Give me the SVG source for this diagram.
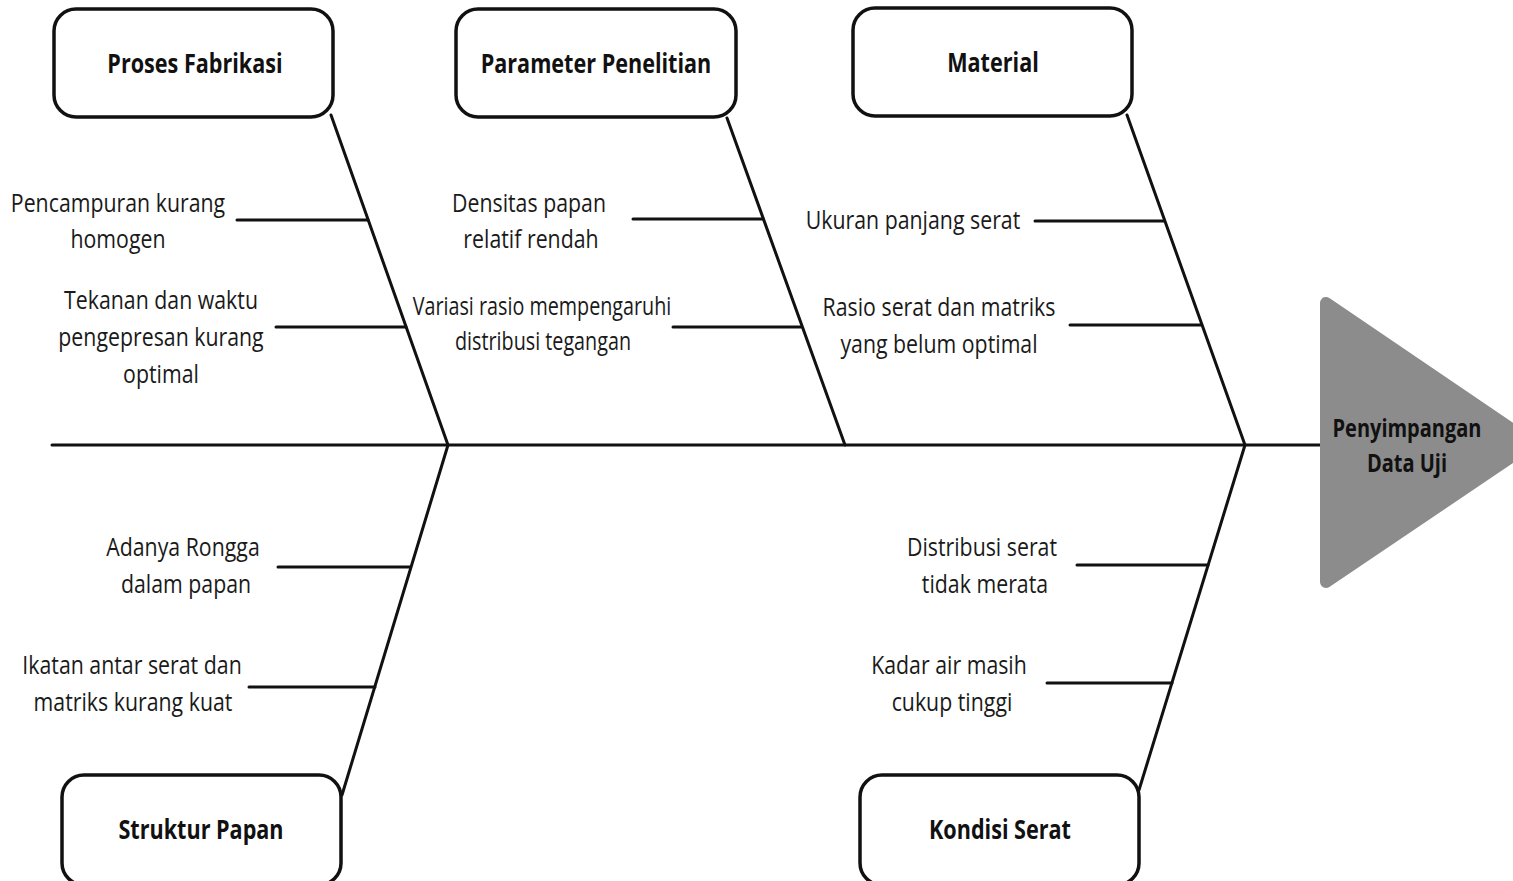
<svg xmlns="http://www.w3.org/2000/svg" width="1513" height="881" viewBox="0 0 1513 881">
<style>
.box{fill:#fff;stroke:#111;stroke-width:3.5}
.ln{stroke:#111;stroke-width:3;fill:none;stroke-linecap:round}
.t{font-family:"Open Sans","Noto Sans",sans-serif;font-size:26px;fill:#1a1a1a;text-anchor:middle;transform-box:fill-box;transform-origin:center;transform:scaleX(0.82)}
.n{transform:scaleX(0.76)}
.h{font-family:"Open Sans","Noto Sans",sans-serif;font-size:27px;font-weight:bold;fill:#111;text-anchor:middle;transform-box:fill-box;transform-origin:center;transform:scaleX(0.8)}
</style>
<rect width="1513" height="881" fill="#fff"/>
<g id="connectors">
<line class="ln" x1="52" y1="445" x2="1322" y2="445"/>
<line class="ln" x1="331" y1="115" x2="448" y2="445"/>
<line class="ln" x1="448" y1="445" x2="342" y2="795"/>
<line class="ln" x1="727" y1="118" x2="845" y2="445"/>
<line class="ln" x1="1127" y1="115" x2="1245" y2="445"/>
<line class="ln" x1="1245" y1="445" x2="1139" y2="790"/>
<line class="ln" x1="237" y1="220" x2="368" y2="220"/>
<line class="ln" x1="276" y1="327" x2="406" y2="327"/>
<line class="ln" x1="633" y1="219" x2="763" y2="219"/>
<line class="ln" x1="673" y1="327" x2="801" y2="327"/>
<line class="ln" x1="1035" y1="221" x2="1164" y2="221"/>
<line class="ln" x1="1070" y1="325" x2="1201" y2="325"/>
<line class="ln" x1="278" y1="567" x2="410" y2="567"/>
<line class="ln" x1="249" y1="687" x2="375" y2="687"/>
<line class="ln" x1="1077" y1="565" x2="1208" y2="565"/>
<line class="ln" x1="1047" y1="683" x2="1172" y2="683"/>
</g>
<g id="effect">
<polygon points="1326,303 1326,582 1532,443" fill="#8c8c8c" stroke="#8c8c8c" stroke-width="12" stroke-linejoin="round"/>
<text class="h" x="1407" y="437" style="font-size:25px">Penyimpangan</text>
<text class="h" x="1407" y="472" style="font-size:25px">Data Uji</text>
</g>
<g id="proses-fabrikasi">
<rect class="box" x="54" y="9" width="279" height="108" rx="22"/>
<text class="h" x="195" y="73">Proses Fabrikasi</text>
</g>
<g id="parameter-penelitian">
<rect class="box" x="456" y="9" width="280" height="108" rx="22"/>
<text class="h" x="596" y="73">Parameter Penelitian</text>
</g>
<g id="material">
<rect class="box" x="853" y="8" width="279" height="108" rx="22"/>
<text class="h" x="993" y="72">Material</text>
</g>
<g id="struktur-papan">
<rect class="box" x="62" y="775" width="279" height="110" rx="22"/>
<text class="h" x="201" y="839">Struktur Papan</text>
</g>
<g id="kondisi-serat">
<rect class="box" x="860" y="775" width="279" height="110" rx="22"/>
<text class="h" x="1000" y="839">Kondisi Serat</text>
</g>
<g id="causes">
<text class="t" x="118" y="212">Pencampuran kurang</text>
<text class="t" x="118" y="248">homogen</text>
<text class="t" x="161" y="309">Tekanan dan waktu</text>
<text class="t" x="161" y="346">pengepresan kurang</text>
<text class="t" x="161" y="383">optimal</text>
<text class="t" x="529" y="212">Densitas papan</text>
<text class="t" x="531" y="248">relatif rendah</text>
<text class="t n" x="542" y="315">Variasi rasio mempengaruhi</text>
<text class="t n" x="543" y="350">distribusi tegangan</text>
<text class="t" x="913" y="229">Ukuran panjang serat</text>
<text class="t" x="939" y="316">Rasio serat dan matriks</text>
<text class="t" x="939" y="353">yang belum optimal</text>
<text class="t" x="183" y="556">Adanya Rongga</text>
<text class="t" x="186" y="593">dalam papan</text>
<text class="t" x="132" y="674">Ikatan antar serat dan</text>
<text class="t" x="133" y="711">matriks kurang kuat</text>
<text class="t" x="982" y="556">Distribusi serat</text>
<text class="t" x="985" y="593">tidak merata</text>
<text class="t" x="949" y="674">Kadar air masih</text>
<text class="t" x="952" y="711">cukup tinggi</text>
</g>
</svg>
